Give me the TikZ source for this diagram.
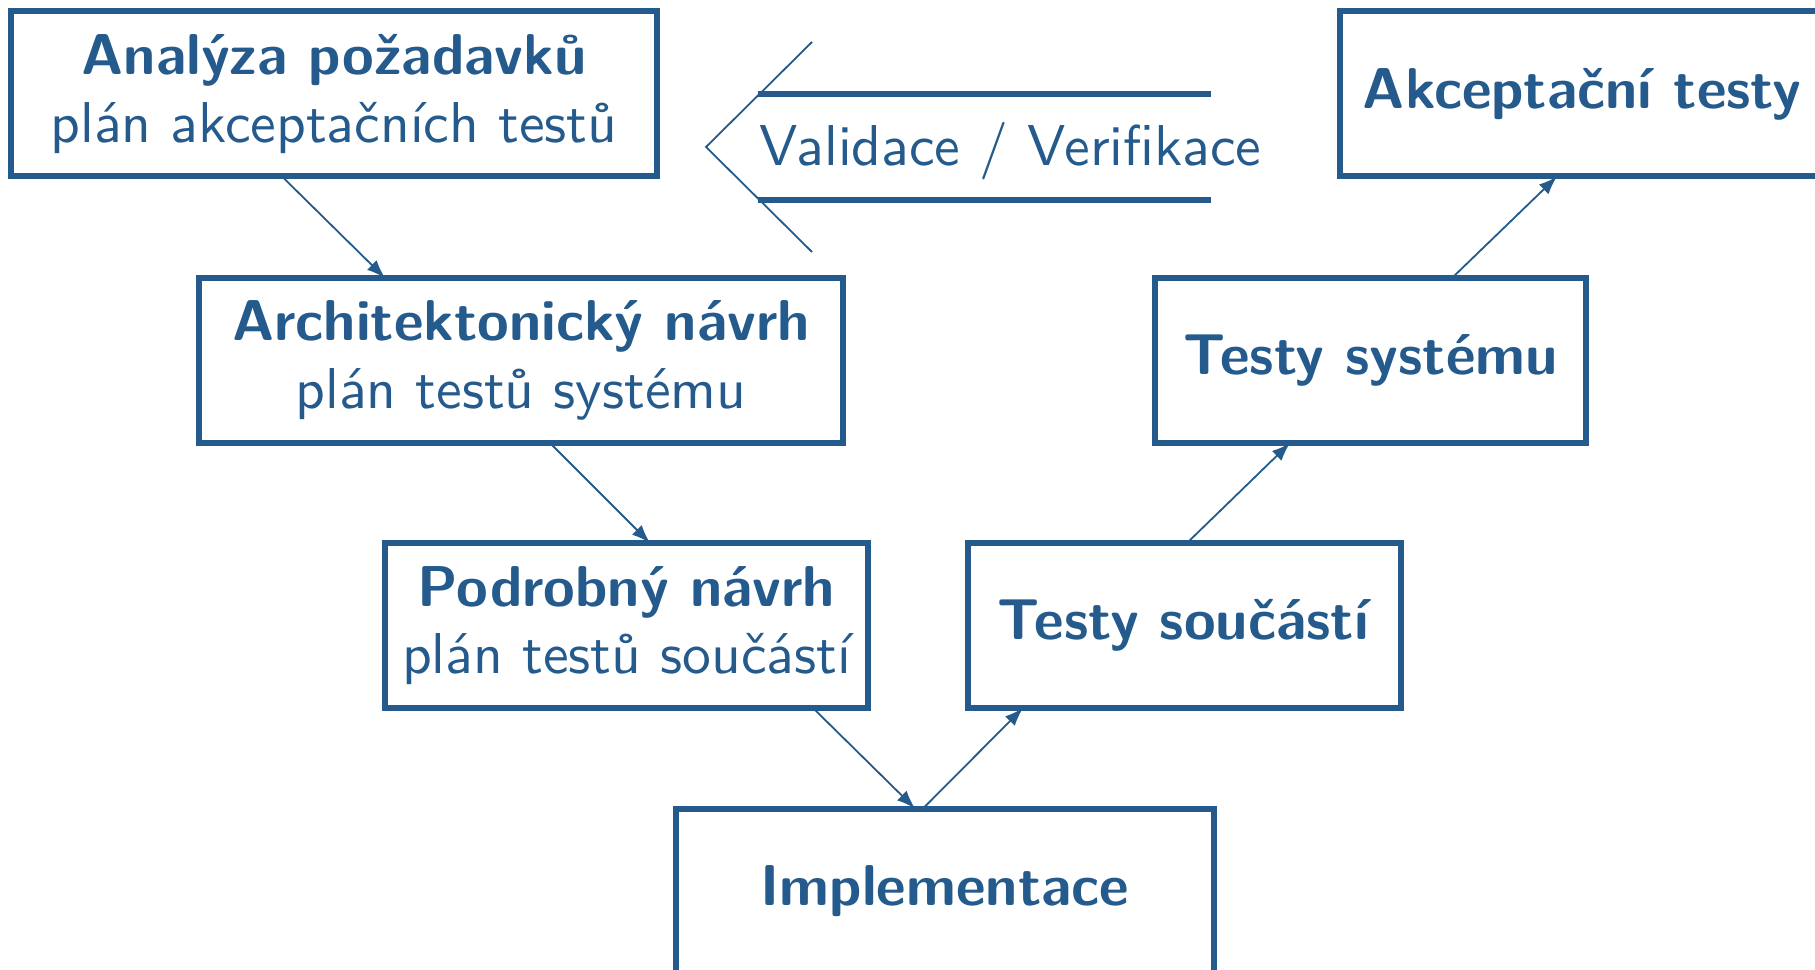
\documentclass[tikz,border=0pt]{standalone}
\usepackage{fontspec}
\setsansfont{lmsans10-regular.otf}[BoldFont=lmsans10-bold.otf]
\usetikzlibrary{arrows.meta,calc}
\definecolor{vblue}{RGB}{36,90,140}
\begin{document}
\begin{tikzpicture}[x=0.25pt,y=-0.25pt,
  box/.style={draw=vblue, line width=1.5pt, rectangle, text=vblue, align=center,
    inner sep=0pt, outer sep=0pt, minimum height=41.25pt,
    font=\sffamily\fontsize{14.4}{16.8}\selectfont},
  conn/.style={draw=vblue, line width=0.45pt, -{Latex[length=4.6pt,width=3.4pt]}},
  thinline/.style={draw=vblue, line width=0.45pt},
  thickline/.style={draw=vblue, line width=1.6pt},
  vvlabel/.style={text=vblue, inner sep=0pt, font=\sffamily\fontsize{14.4}{16.8}\selectfont}]
\useasboundingbox (0,0) rectangle (1815,970);
\fill[white] (0,0) rectangle (1815,970);
% boxes
\node[box, minimum width=161.5pt] (req) at (334,94) {\textbf{Analýza požadavků}\\plán akceptačních testů};
\node[box, minimum width=121pt] (acc) at (1582,94) {\textbf{Akceptační testy}};
\node[box, minimum width=161pt] (arch) at (521,360.5) {\textbf{Architektonický návrh}\\plán testů systému};
\node[box, minimum width=107.75pt] (sys) at (1370.5,360.5) {\textbf{Testy systému}};
\node[box, minimum width=120.75pt] (det) at (626.5,625.5) {\textbf{Podrobný návrh}\\plán testů součástí};
\node[box, minimum width=108.25pt] (comp) at (1184.5,625.5) {\textbf{Testy součástí}};
\node[box, minimum width=134.5pt] (impl) at (945,891) {\textbf{Implementace}};
% connectors
\draw[conn] ($(req.south)+(-52,0)$) -- ($(arch.north)+(-136,0)$);
\draw[conn] ($(arch.south)+(29,0)$) -- ($(det.north)+(23.5,0)$);
\draw[conn] ($(det.south)+(186.5,0)$) -- ($(impl.north)+(-30,0)$);
\draw[conn] ($(impl.north)+(-22,0)$) -- ($(comp.south)+(-161.5,0)$);
\draw[conn] ($(comp.north)+(2.5,0)$) -- ($(sys.south)+(-80.5,0)$);
\draw[conn] ($(sys.north)+(81.5,0)$) -- ($(acc.south)+(-25,0)$);
% validation arrow
\coordinate (tip) at (706,147);
\coordinate (vtop) at (812,42);
\coordinate (vbot) at (812,252);
\draw[thinline] (vtop) -- (tip) -- (vbot);
\coordinate (l1a) at (758,94);
\coordinate (l1b) at (1211,94);
\coordinate (l2a) at (758,200);
\coordinate (l2b) at (1211,200);
\draw[thickline] (l1a) -- (l1b);
\draw[thickline] (l2a) -- (l2b);
\node[vvlabel, anchor=base west] (vv) at (759,165.5) {Validace / Verifikace};
\end{tikzpicture}
\end{document}
